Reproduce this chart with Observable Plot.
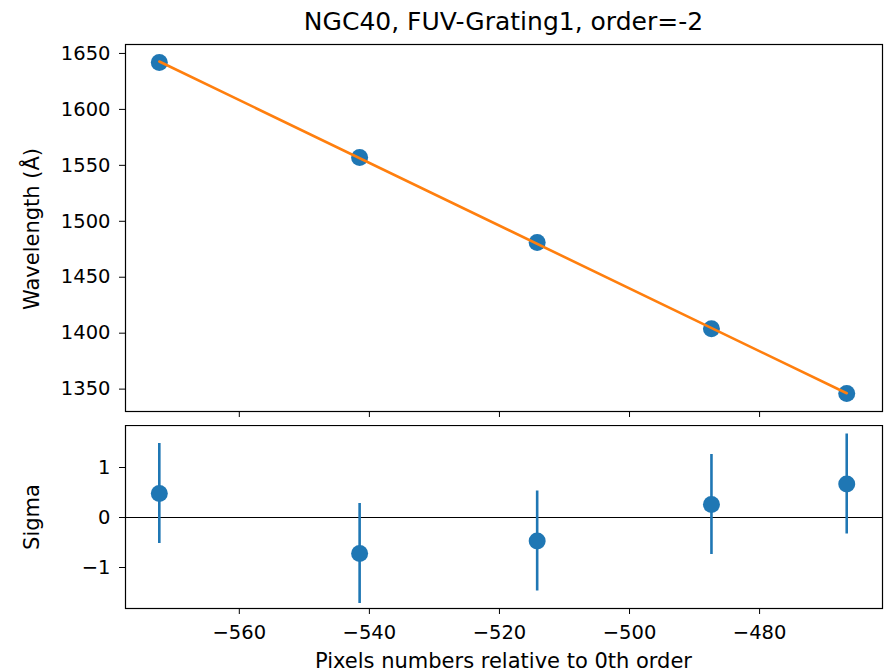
<!DOCTYPE html>
<html>
<head>
<meta charset="utf-8">
<script src="https://cdn.jsdelivr.net/npm/d3@7"></script>
<script src="https://cdn.jsdelivr.net/npm/@observablehq/plot@0.6"></script>
<style>
  body { margin: 0; background: #fff; font-family: "DejaVu Sans", sans-serif; }
  #wrap { position: relative; width: 886px; height: 672px; overflow: hidden; }
  .abs { position: absolute; }
  .lbl { position: absolute; font-size: 21px; line-height: 1; color: #000; white-space: nowrap; }
  svg { font-family: "DejaVu Sans", sans-serif; }
</style>
</head>
<body>
<div id="wrap">
  <div class="lbl" id="title" style="left:0;width:1007px;top:9px;text-align:center;font-size:25px;">NGC40, FUV-Grating1, order=-2</div>
  <div class="abs" id="topPanel" style="left:0;top:30px;"></div>
  <div class="abs" id="botPanel" style="left:0;top:425px;"></div>
  <div class="lbl" id="ylab1" style="left:32px;top:229px;transform:translate(-50%,-50%) rotate(-90deg);">Wavelength (Å)</div>
  <div class="lbl" id="ylab2" style="left:32px;top:517px;transform:translate(-50%,-50%) rotate(-90deg);">Sigma</div>
  <div class="lbl" id="xlab" style="left:0;width:1007px;top:651px;text-align:center;">Pixels numbers relative to 0th order</div>
</div>
<script>
const pixels = [-572.3, -541.5, -514.2, -487.4, -466.6];
const wavelengths = [1642, 1557, 1481, 1404, 1346];
const sigmas = [0.48, -0.72, -0.47, 0.26, 0.67];
const sigmaErrs = [1, 1, 1, 1, 1];
const xTicks = [-560, -540, -520, -500, -480];
const wlTicks = [1350, 1400, 1450, 1500, 1550, 1600, 1650];
const sigmaTicks = [-1, 0, 1];

const blue = "#1f77b4", orange = "#ff7f0e";
const pts = pixels.map((p, i) => ({x: p, w: wavelengths[i], s: sigmas[i], e: sigmaErrs[i]}));
const minus = d => String(d).replace("-", "\u2212");
const xDomain = [-577.5, -461.1];
const FS = 19.5;
const baseStyle = {fontSize: FS + "px", fontFamily: "DejaVu Sans, sans-serif", color: "#000", background: "transparent"};

const topChart = Plot.plot({
  width: 886, height: 395,
  marginLeft: 125, marginRight: 4, marginTop: 14, marginBottom: 14,
  style: baseStyle,
  x: {domain: xDomain},
  y: {domain: [1330, 1658]},
  marks: [
    Plot.axisY({ticks: wlTicks, tickSize: 6, tickPadding: 9, tickFormat: d => String(d), fontSize: FS, label: null}),
    Plot.axisX({ticks: xTicks, tickSize: 6, tickFormat: () => "", label: null}),
    Plot.dot(pts, {x: "x", y: "w", r: 8.5, fill: blue}),
    Plot.linearRegressionY(pts, {x: "x", y: "w", ci: 0, stroke: orange, strokeWidth: 2.6}),
    Plot.frame({stroke: "#000", strokeWidth: 1.2})
  ]
});
document.getElementById("topPanel").appendChild(topChart);

const botChart = Plot.plot({
  width: 886, height: 247,
  marginLeft: 125, marginRight: 4, marginTop: 0, marginBottom: 64,
  style: baseStyle,
  x: {domain: xDomain},
  y: {domain: [-1.82, 1.84]},
  marks: [
    Plot.axisY({ticks: sigmaTicks, tickSize: 6, tickPadding: 9, tickFormat: minus, fontSize: FS, label: null}),
    Plot.axisX({ticks: xTicks, tickSize: 6, tickPadding: 11, tickFormat: minus, fontSize: FS, label: null}),
    Plot.ruleY([0], {stroke: "#000", strokeWidth: 1}),
    Plot.ruleX(pts, {x: "x", y1: d => d.s - d.e, y2: d => d.s + d.e, stroke: blue, strokeWidth: 2.6}),
    Plot.dot(pts, {x: "x", y: "s", r: 8.5, fill: blue}),
    Plot.frame({stroke: "#000", strokeWidth: 1.2})
  ]
});
document.getElementById("botPanel").appendChild(botChart);
</script>
</body>
</html>
